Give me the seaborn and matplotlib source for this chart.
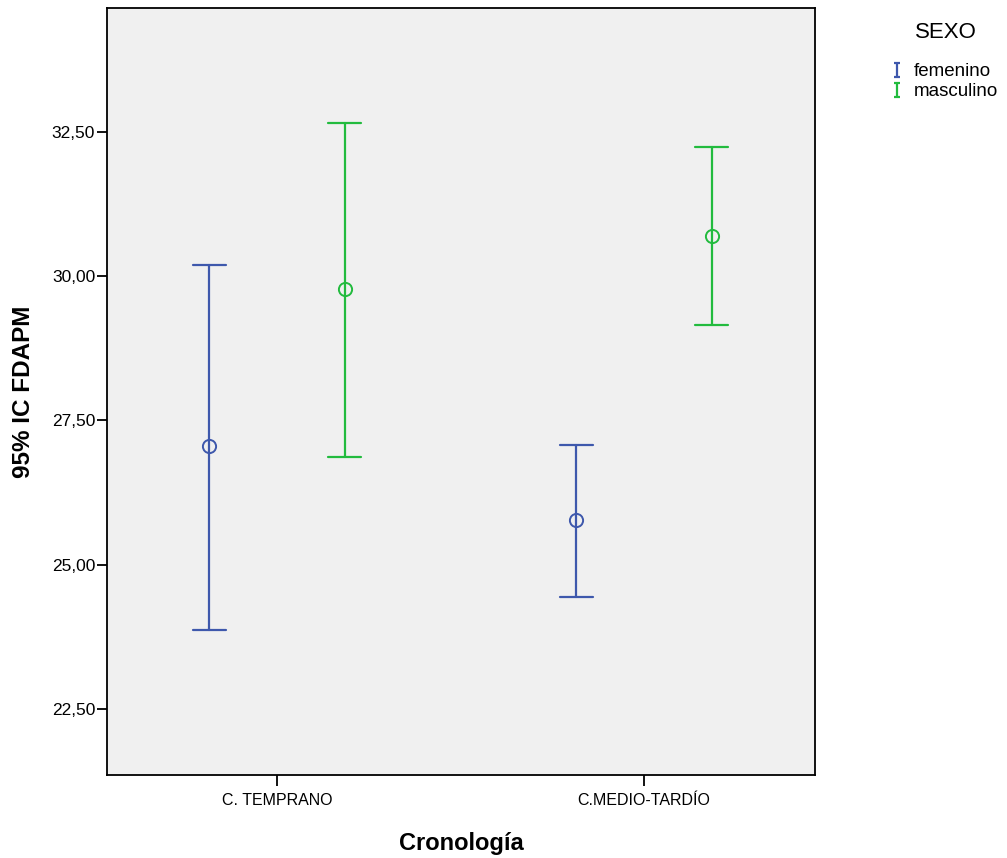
import numpy as np
import pandas as pd
import matplotlib
matplotlib.use("Agg")
import matplotlib.pyplot as plt
import seaborn as sns
from matplotlib.path import Path
from matplotlib.lines import Line2D
from matplotlib.ticker import FuncFormatter, FixedLocator

# ---- data ----
categories = ["C. TEMPRANO", "C.MEDIO-TARDÍO"]
sexes = ["femenino", "masculino"]
mean_fem = [27.05, 25.78]
low_fem = [23.87, 24.43]
high_fem = [30.19, 27.08]
mean_mas = [29.77, 30.69]
low_mas = [26.87, 29.15]
high_mas = [32.66, 32.24]
yticks = [22.5, 25.0, 27.5, 30.0, 32.5]
colors = {"femenino": "#3E58AC", "masculino": "#22BB3E"}

rows = []
for i, c in enumerate(categories):
    for s, m, lo, hi in (("femenino", mean_fem, low_fem, high_fem),
                         ("masculino", mean_mas, low_mas, high_mas)):
        for v in (lo[i], m[i], hi[i]):
            rows.append({"Cronología": c, "SEXO": s, "FDAPM": v})
df = pd.DataFrame(rows)

sns.set_theme(style="white")
plt.rcParams['font.family'] = ['Liberation Sans', 'DejaVu Sans']
plt.rcParams.update({"text.color": "black", "axes.labelcolor": "black",
                     "xtick.color": "black", "ytick.color": "black"})

fig = plt.figure(figsize=(10.07, 8.58), dpi=100)
ax = fig.add_axes([107/1007, 1-775/858, (815-107)/1007, (775-8)/858])
ax.set_facecolor("#F0F0F0")

sns.pointplot(data=df, x="Cronología", y="FDAPM", hue="SEXO",
              order=categories, hue_order=sexes, palette=colors,
              estimator="median", errorbar=("pi", 100),
              dodge=0.37, linestyle="none", capsize=0.09,
              markers="o", markersize=9.5,
              err_kws={"linewidth": 1.6}, ax=ax, legend=False)

for ln in ax.lines:
    ln.set_markerfacecolor("none")
    ln.set_markeredgewidth(1.4)

ax.set_xlim(-0.463, 1.466)
ax.set_ylim(21.35, 34.65)
ax.yaxis.set_major_locator(FixedLocator(yticks))
ax.yaxis.set_major_formatter(FuncFormatter(lambda v, p: f"{v:.2f}".replace(".", ",")))

for sp in ax.spines.values():
    sp.set_visible(True)
    sp.set_color("black")
    sp.set_linewidth(1.3)

ax.tick_params(axis="y", which="major", direction="out", length=7, width=1.3,
               labelsize=12.5, pad=1.5, left=True)
ax.tick_params(axis="x", which="major", direction="out", length=8, width=1.3,
               labelsize=11.5, pad=5, bottom=True)

ax.set_xlabel("Cronología", fontsize=17, fontweight="bold", labelpad=17)
ax.set_ylabel("95% IC FDAPM", fontsize=17.5, fontweight="bold", labelpad=12)

# legend with I-beam handles
ibeam = Path([(-0.5, -1), (0.5, -1), (0, -1), (0, 1), (-0.5, 1), (0.5, 1)],
             [Path.MOVETO, Path.LINETO, Path.MOVETO, Path.LINETO, Path.MOVETO, Path.LINETO])
handles = [Line2D([], [], linestyle="none", marker=ibeam, markersize=10,
                  markerfacecolor="none", markeredgecolor=colors[s], markeredgewidth=1.6)
           for s in sexes]
fig.text(946/1007, 1-32/858, "SEXO", fontsize=16, ha="center", va="center")
fig.legend(handles, sexes, loc="upper left",
           bbox_to_anchor=(880/1007, 1-54/858), frameon=False, borderpad=0,
           fontsize=13.5, handlelength=0.8,
           handletextpad=0.5, labelspacing=0.15)

fig.savefig("out.png", dpi=100)
